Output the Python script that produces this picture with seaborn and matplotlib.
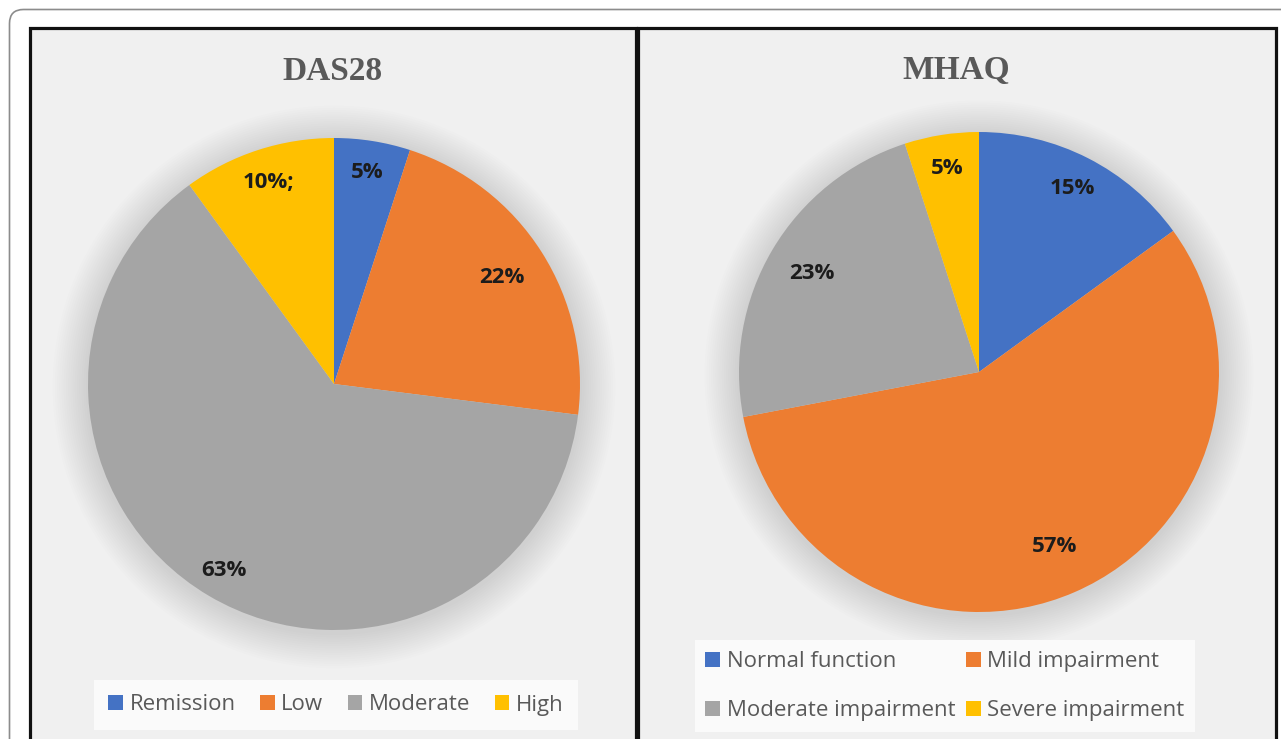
import matplotlib
matplotlib.use("Agg")
import numpy as np
import matplotlib.pyplot as plt
import seaborn as sns
from matplotlib.patches import Rectangle, FancyBboxPatch, Circle, Patch
from matplotlib.transforms import IdentityTransform

# ---------------- data ----------------
das_categories = ["Remission", "Low", "Moderate", "High"]
das_values = [5, 22, 63, 10]
das_labels = ["5%", "22%", "63%", "10%;"]

mhaq_categories = ["Normal function", "Mild impairment", "Moderate impairment", "Severe impairment"]
mhaq_values = [15, 57, 23, 5]
mhaq_labels = ["15%", "57%", "23%", "5%"]

titles = ["DAS28", "MHAQ"]

# ---------------- style ----------------
sns.set_theme(style="white")
plt.rcParams['font.family'] = ['Open Sans', 'DejaVu Sans']
colors = sns.color_palette(["#4472C4", "#ED7D31", "#A5A5A5", "#FFC000"])

W, H = 1281, 739
fig = plt.figure(figsize=(W / 100, H / 100), dpi=100)
fig.patch.set_facecolor("white")


def fx(px):
    return px / W


def fy(py):
    return 1 - py / H


# outer rounded frame (display pixels, origin bottom-left)
outer = FancyBboxPatch((9.5, -40), 1320, (H - 9.5) + 40,
                       boxstyle="round,pad=0,rounding_size=14",
                       transform=IdentityTransform(), facecolor="white",
                       edgecolor="#8c8c8c", linewidth=1.2, zorder=-3)
fig.add_artist(outer)

# two panels
for x0, x1 in [(29.5, 635.5), (637.5, 1275.5)]:
    r = Rectangle((x0, -20), x1 - x0, (H - 27.5) + 20,
                  transform=IdentityTransform(), facecolor="#f0f0f0",
                  edgecolor="#111111", linewidth=2.3, zorder=-2)
    fig.add_artist(r)


def make_autopct(labels):
    it = iter(labels)
    return lambda pct: next(it)


def draw_pie(box, values, labels, label_dist):
    cx, cy, rad = box
    ax = fig.add_axes([fx(cx - rad), fy(cy + rad), fx(2 * rad), 2 * rad / H])
    ax.set_facecolor("none")
    ax.patch.set_alpha(0)
    # soft shadow
    for k in range(1, 17):
        ax.add_patch(Circle((0, -0.012), 1 + 0.009 * k, facecolor="black",
                            alpha=0.0065, linewidth=0, clip_on=False, zorder=0))
    wedges, texts, autotexts = ax.pie(
        values, colors=colors, startangle=90, counterclock=False, radius=1,
        autopct=make_autopct(labels), pctdistance=0.86,
        wedgeprops=dict(linewidth=0),
        textprops=dict(fontsize=16, fontweight="bold", color="#1c1c1c"))
    for w, t, d in zip(wedges, autotexts, label_dist):
        w.set_zorder(2)
        t.set_zorder(3)
        ang = np.deg2rad((w.theta1 + w.theta2) / 2)
        t.set_position((d * np.cos(ang), d * np.sin(ang)))
    ax.set_xlim(-1, 1)
    ax.set_ylim(-1, 1)
    ax.axis("off")
    return wedges


draw_pie((334, 384, 246), das_values, das_labels, [0.87, 0.81, 0.88, 0.86])
draw_pie((979, 372, 240), mhaq_values, mhaq_labels, [0.86, 0.79, 0.81, 0.86])

# titles
for t, xc in zip(titles, [332.5, 956.5]):
    fig.text(fx(xc), fy(71), t, ha="center", va="center",
             fontfamily="Liberation Serif", fontweight="bold",
             fontsize=24, color="#595959")

# legends
handles = [Patch(facecolor=c, edgecolor="none") for c in colors]
leg1 = fig.legend(handles, das_categories, loc="center",
                  bbox_to_anchor=(fx(336), fy(705)), ncol=4, fontsize=16,
                  handlelength=0.65, handleheight=0.65, handletextpad=0.3,
                  columnspacing=1.1, borderpad=0.65, frameon=True,
                  fancybox=False, facecolor="#fafafa", edgecolor="none",
                  framealpha=1, labelcolor="#595959")

order = [0, 2, 1, 3]
leg2 = fig.legend([handles[i] for i in order], [mhaq_categories[i] for i in order],
                  loc="center", bbox_to_anchor=(fx(945), fy(686)), ncol=2,
                  fontsize=16, handlelength=0.65, handleheight=0.65,
                  handletextpad=0.3, columnspacing=0.5, labelspacing=1.27,
                  borderpad=0.47, frameon=True, fancybox=False,
                  facecolor="#fafafa", edgecolor="none", framealpha=1,
                  labelcolor="#595959")

fig.savefig("out.png", dpi=100)
